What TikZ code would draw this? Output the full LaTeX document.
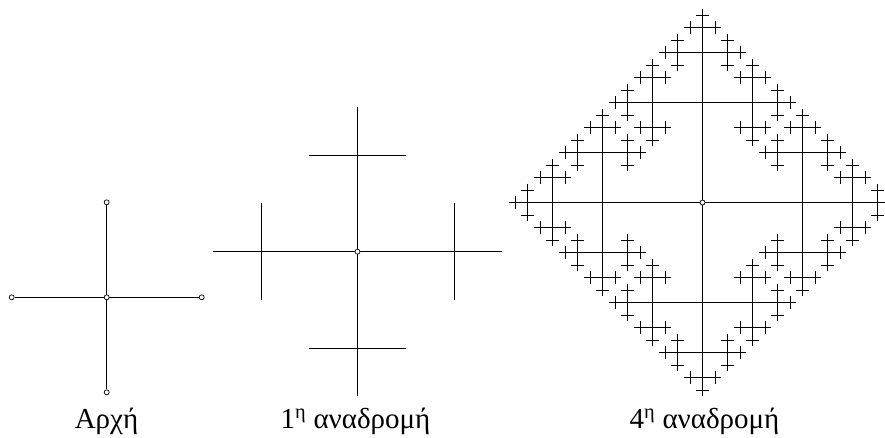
\documentclass[tikz,border=0pt]{standalone}
\usepackage{fontspec}
\setmainfont{Liberation Serif}
\usetikzlibrary{backgrounds}
\tikzset{
  fracline/.style={line width=0.9pt, black},
  ringdot/.style={circle, draw=black, fill=white, line width=0.7pt, inner sep=0pt, minimum size=5pt},
  captiontext/.style={anchor=base, inner sep=0pt, font=\fontsize{29}{33}\selectfont},
}
\newcommand\crossrec[2]{%
  \draw[fracline] (-1,0) -- (1,0) (0,-1) -- (0,1);
  \ifnum#1>0
    \edef\crnext{\number\numexpr#1-1\relax}%
    \if#2R\else\begin{scope}[shift={(1,0)},scale=0.5]\crossrec{\crnext}{L}\end{scope}\fi
    \if#2L\else\begin{scope}[shift={(-1,0)},scale=0.5]\crossrec{\crnext}{R}\end{scope}\fi
    \if#2U\else\begin{scope}[shift={(0,1)},scale=0.5]\crossrec{\crnext}{D}\end{scope}\fi
    \if#2D\else\begin{scope}[shift={(0,-1)},scale=0.5]\crossrec{\crnext}{U}\end{scope}\fi
  \fi}
\begin{document}
\begin{tikzpicture}[x=1pt,y=-1pt]
\useasboundingbox (0,0) rectangle (885,438);
\clip (0,0) rectangle (885,438);
% start figure
\node[ringdot] (c0) at (106.7,297.3) {};
\node[ringdot] (w0) at (11.7,297.3) {};
\node[ringdot] (e0) at (201.7,297.3) {};
\node[ringdot] (n0) at (106.7,202.3) {};
\node[ringdot] (s0) at (106.7,392.3) {};
\begin{scope}[on background layer]
  \draw[fracline] (w0) -- (e0);
  \draw[fracline] (n0) -- (s0);
  \begin{scope}[shift={(357.5,251.7)},scale=96.5]
    \crossrec{1}{X}
  \end{scope}
  \begin{scope}[shift={(702.5,202.5)},scale=100]
    \crossrec{4}{X}
  \end{scope}
\end{scope}
\node[ringdot] (c1) at (357.5,251.7) {};
\node[ringdot] (c4) at (702.5,202.5) {};
% captions
\node[captiontext] (t0) at (106.5,428) {Αρχή};
\node[captiontext] (t1) at (355.5,428) {1\textsuperscript{η} αναδρομή};
\node[captiontext] (t4) at (704.5,428) {4\textsuperscript{η} αναδρομή};
\end{tikzpicture}
\end{document}
